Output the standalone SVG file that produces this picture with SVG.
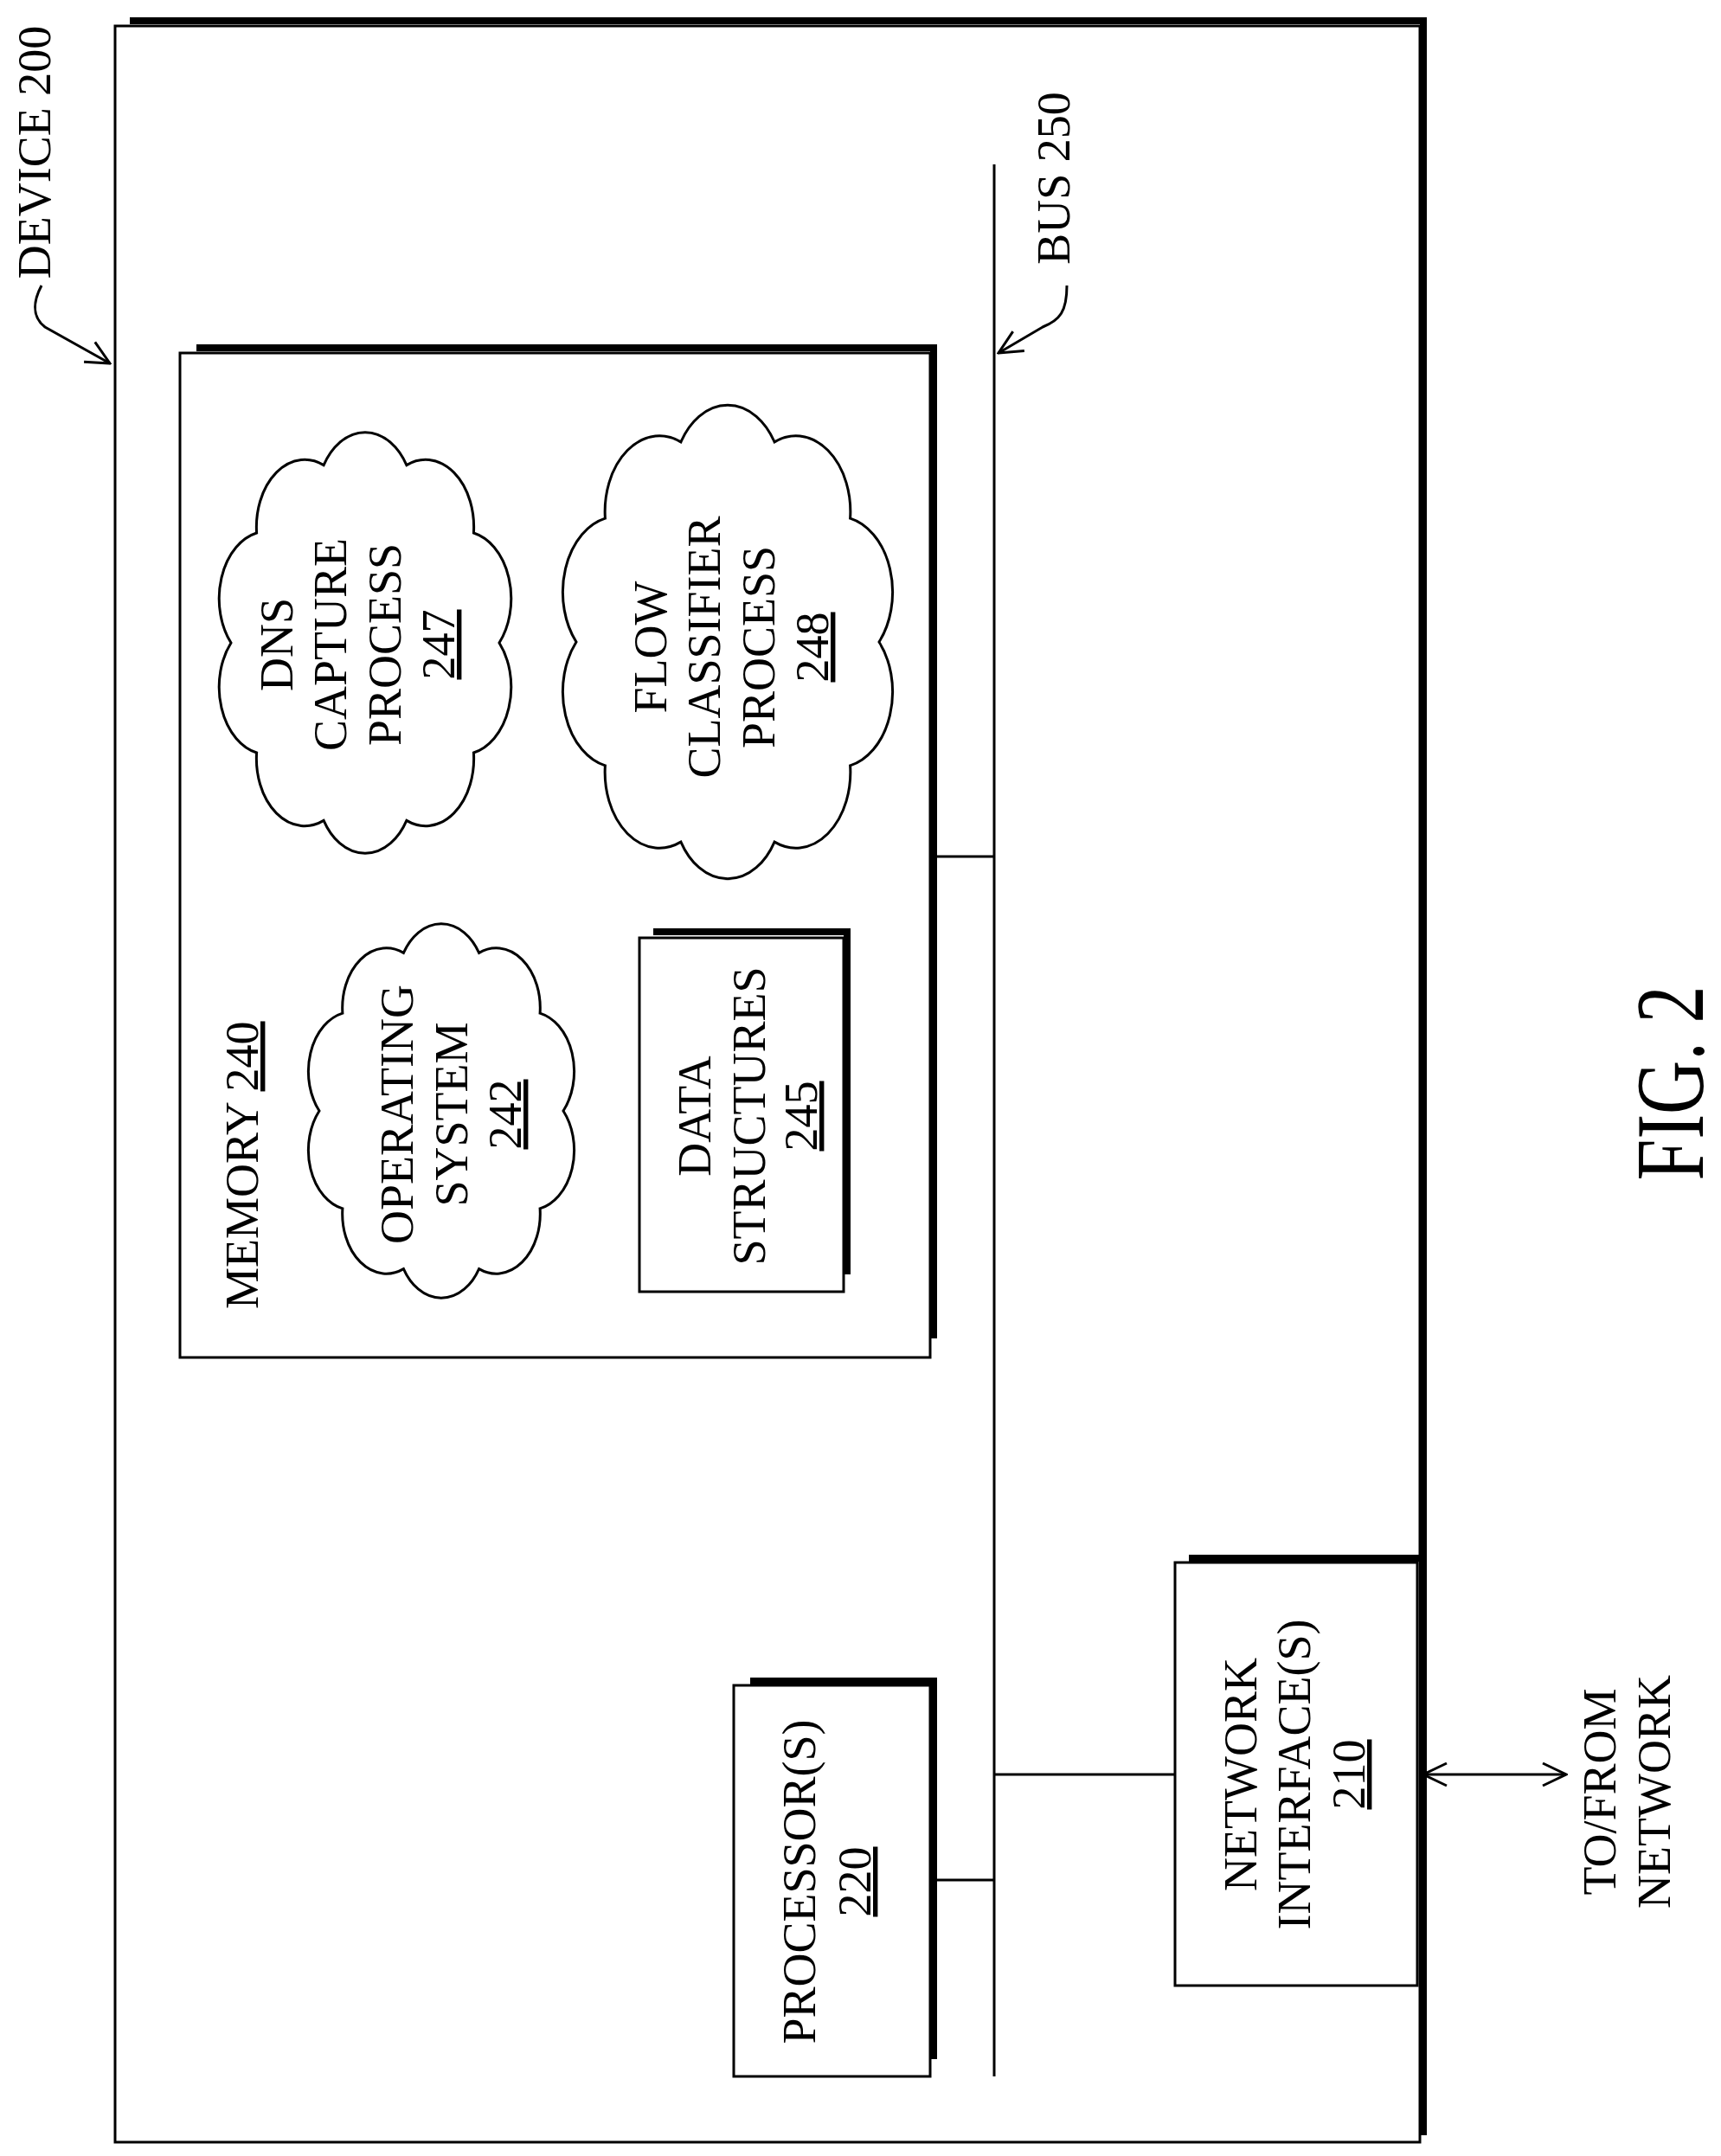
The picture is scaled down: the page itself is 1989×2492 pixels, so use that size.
<svg xmlns="http://www.w3.org/2000/svg" width="1989" height="2492" viewBox="0 0 1989 2492">
<style>
.b{fill:#fff;stroke:#000;stroke-width:3}
.sh{fill:none;stroke:#000;stroke-width:8}
.ln{fill:none;stroke:#000;stroke-width:3}
.cl{fill:#fff;stroke:#000;stroke-width:3}
text{font-family:"Liberation Serif","Times New Roman",serif;font-size:54px;fill:#000;text-anchor:middle}
.u{text-decoration:underline}
</style>
<defs>
<marker id="ah2" viewBox="0 0 30 30" refX="28" refY="15" markerWidth="30" markerHeight="30" markerUnits="userSpaceOnUse" orient="auto-start-reverse"><path d="M1,2 L28,15 L1,28" fill="none" stroke="#000" stroke-width="3"/></marker>
</defs>

<g id="device">
<rect class="b" x="133" y="30" width="1508" height="2446"/>
<polyline class="sh" points="150,24 1645,24 1645,2468"/>
<text transform="translate(58,176) rotate(-90)">DEVICE 200</text>
</g>

<g id="memory">
<rect class="b" x="208" y="408" width="867" height="1161"/>
<polyline class="sh" points="227,402 1079,402 1079,1547"/>
<text transform="translate(298,1513) rotate(-90)" style="text-anchor:start">MEMORY <tspan class="u">240</tspan></text>
</g>

<g id="dns">
<path class="cl" d="M577,743 A55.8,77.8 0 0 1 547.4,870 A55.8,77.8 0 0 1 469.9,948.4 A55.8,77.8 0 0 1 374.1,948.4 A55.8,77.8 0 0 1 296.6,870 A55.8,77.8 0 0 1 267,743 A55.8,77.8 0 0 1 296.6,616 A55.8,77.8 0 0 1 374.1,537.6 A55.8,77.8 0 0 1 469.9,537.6 A55.8,77.8 0 0 1 547.4,616 A55.8,77.8 0 0 1 577,743 Z"/>
<text transform="translate(338,745) rotate(-90)">DNS</text>
<text transform="translate(400,745) rotate(-90)">CAPTURE</text>
<text transform="translate(463,745) rotate(-90)">PROCESS</text>
<text class="u" transform="translate(525,745) rotate(-90)">247</text>
</g>

<g id="flow">
<path class="cl" d="M1016,742 A63,87.5 0 0 1 982.6,884.9 A63,87.5 0 0 1 895.1,973.1 A63,87.5 0 0 1 786.9,973.1 A63,87.5 0 0 1 699.4,884.9 A63,87.5 0 0 1 666,742 A63,87.5 0 0 1 699.4,599.1 A63,87.5 0 0 1 786.9,510.9 A63,87.5 0 0 1 895.1,510.9 A63,87.5 0 0 1 982.6,599.1 A63,87.5 0 0 1 1016,742 Z"/>
<text transform="translate(770,748) rotate(-90)">FLOW</text>
<text transform="translate(832,748) rotate(-90)">CLASSIFIER</text>
<text transform="translate(895,748) rotate(-90)">PROCESS</text>
<text class="u" transform="translate(957,748) rotate(-90)">248</text>
</g>

<g id="os">
<path class="cl" d="M651,1284 A50.8,69.1 0 0 1 624.1,1396.9 A50.8,69.1 0 0 1 553.6,1466.6 A50.8,69.1 0 0 1 466.4,1466.6 A50.8,69.1 0 0 1 395.9,1396.9 A50.8,69.1 0 0 1 369,1284 A50.8,69.1 0 0 1 395.9,1171.1 A50.8,69.1 0 0 1 466.4,1101.4 A50.8,69.1 0 0 1 553.6,1101.4 A50.8,69.1 0 0 1 624.1,1171.1 A50.8,69.1 0 0 1 651,1284 Z"/>
<text transform="translate(477,1288) rotate(-90)">OPERATING</text>
<text transform="translate(540,1288) rotate(-90)">SYSTEM</text>
<text class="u" transform="translate(602,1288) rotate(-90)">242</text>
</g>

<g id="data">
<rect class="b" x="739" y="1084" width="236" height="409"/>
<polyline class="sh" points="755,1077 979,1077 979,1473"/>
<text transform="translate(821,1290) rotate(-90)">DATA</text>
<text transform="translate(884,1290) rotate(-90)">STRUCTURES</text>
<text class="u" transform="translate(944,1290) rotate(-90)">245</text>
</g>

<g id="processor">
<rect class="b" x="848" y="1948" width="227" height="452"/>
<polyline class="sh" points="867,1943 1079,1943 1079,2380"/>
<text transform="translate(942,2175) rotate(-90)">PROCESSOR(S)</text>
<text class="u" transform="translate(1006,2175) rotate(-90)">220</text>
</g>

<g id="netif">
<rect class="b" x="1358" y="1806" width="280" height="489"/>
<polyline class="sh" points="1374,1801 1641,1801"/>
<text transform="translate(1452,2051) rotate(-90)">NETWORK</text>
<text transform="translate(1514,2051) rotate(-90)">INTERFACE(S)</text>
<text class="u" transform="translate(1577,2051) rotate(-90)">210</text>
</g>

<g id="labels">
<text transform="translate(1236,206) rotate(-90)">BUS 250</text>
<text transform="translate(1867,2071) rotate(-90)">TO/FROM</text>
<text transform="translate(1930,2071) rotate(-90)">NETWORK</text>
<text transform="translate(1968,1252) rotate(-90)" style="font-size:112px" textLength="225" lengthAdjust="spacingAndGlyphs">FIG. 2</text>
</g>

<g id="connectors">
<line class="ln" x1="1149" y1="190" x2="1149" y2="2400"/>
<line class="ln" x1="1079" y1="990" x2="1149" y2="990"/>
<line class="ln" x1="1079" y1="2173" x2="1149" y2="2173"/>
<line class="ln" x1="1149" y1="2051" x2="1358" y2="2051"/>
<line class="ln" x1="1645" y1="2051" x2="1810" y2="2051" marker-start="url(#ah2)" marker-end="url(#ah2)"/>
<path class="ln" d="M48,330 C40,345 35,365 52,378 L127,420" marker-end="url(#ah2)"/>
<path class="ln" d="M1233,330 C1233,360 1225,370 1205,378 L1154,408" marker-end="url(#ah2)"/>
</g>
</svg>
